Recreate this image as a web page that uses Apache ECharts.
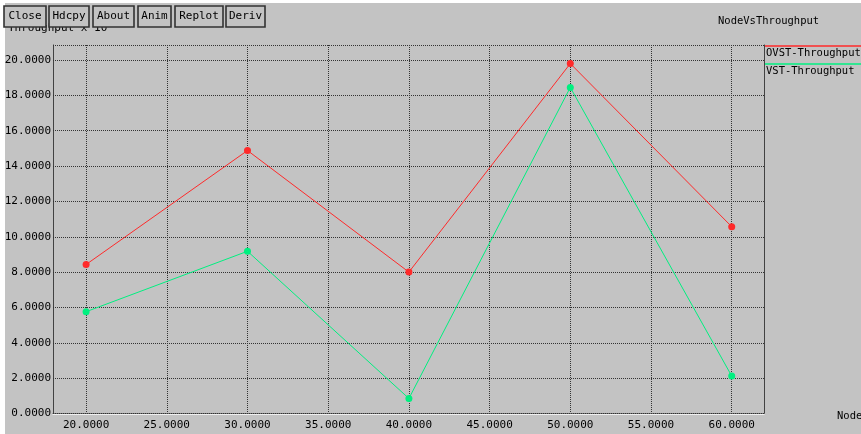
<!DOCTYPE html>
<html>
<head>
<meta charset="utf-8">
<script src="https://cdn.jsdelivr.net/npm/echarts@6/dist/echarts.min.js"></script>
<style>
html,body{margin:0;padding:0;background:#fff;}
#c{width:861px;height:434px;}
</style>
</head>
<body>
<div id="c"></div>
<script>
const nodes = [20, 30, 40, 50, 60];
const ovstThroughput = [8.43, 14.88, 8.0, 19.8, 10.57];
const vstThroughput = [5.76, 9.18, 0.85, 18.45, 2.12];
const xTicks = [20, 25, 30, 35, 40, 45, 50, 55, 60];
const seriesNames = ['OVST-Throughput', 'VST-Throughput'];
const seriesColors = ['#ff2a2a', '#00f080'];
const buttons = ['Close', 'Hdcpy', 'About', 'Anim', 'Replot', 'Deriv'];
const title = 'NodeVsThroughput';
const yTitle = 'Throughput x 10\u00B3';
const xTitle = 'Node';

const FONT = '"DejaVu Sans Mono", "Liberation Mono", monospace';
const BG = '#c3c3c3';
const GRIDC = '#333333';

const chart = echarts.init(document.getElementById('c'));

const buttonPos = [[4, 42], [49, 40], [93, 41], [138, 33], [175, 48], [226, 39]];
const graphics = [
  { type: 'rect', z: -10, silent: true, shape: { x: 5, y: 3, width: 900, height: 450 }, style: { fill: BG } },
  { type: 'text', z: 1, left: 8, top: 23, style: { text: yTitle, font: '11px ' + FONT, fill: '#000' } },
  { type: 'text', z: 1, left: 718, top: 16, style: { text: title, font: '10.5px ' + FONT, fill: '#000' } },
  { type: 'text', z: 1, left: 837, top: 411, style: { text: xTitle, font: '10.5px ' + FONT, fill: '#000' } }
];
buttons.forEach((b, i) => {
  const [x, w] = buttonPos[i];
  graphics.push({ type: 'rect', z: 5, shape: { x: x, y: 6, width: w, height: 21 }, style: { fill: BG, stroke: '#333', lineWidth: 1.6 } });
  graphics.push({ type: 'text', z: 6, x: x + w / 2, y: 16.5, style: { text: b, font: '11px ' + FONT, fill: '#000', align: 'center', verticalAlign: 'middle' } });
});
seriesNames.forEach((n, i) => {
  const y = 46 + i * 18;
  graphics.push({ type: 'line', z: 5, shape: { x1: 765, y1: y, x2: 861, y2: y }, style: { stroke: seriesColors[i], lineWidth: 1.5 } });
  graphics.push({ type: 'text', z: 5, left: 766, top: y + 2, style: { text: n, font: '10.5px ' + FONT, fill: '#000' } });
});

const dotted = { color: GRIDC, width: 1, type: 'dotted' };

chart.setOption({
  backgroundColor: '#fff',
  animation: false,
  graphic: graphics,
  grid: { left: 53, right: 97, top: 45, bottom: 20.5 },
  xAxis: [{
    type: 'value', min: 17.95, max: 62.0,
    offset: 2,
    axisLine: { show: true, lineStyle: { color: '#fff', width: 1.5 } },
    axisTick: { show: false, customValues: xTicks },
    axisLabel: { customValues: xTicks, margin: 4, color: '#000', fontFamily: FONT, fontSize: 11,
      formatter: v => v.toFixed(4) },
    splitLine: { show: true, lineStyle: dotted }
  }, {
    type: 'value', position: 'top', min: 17.95, max: 62.0,
    axisLine: { show: true, lineStyle: dotted },
    axisTick: { show: false }, axisLabel: { show: false }, splitLine: { show: false }
  }],
  yAxis: [{
    type: 'value', min: 0, max: 20.85, interval: 2,
    axisLine: { show: true, lineStyle: dotted },
    axisTick: { show: false },
    axisLabel: { margin: 2, color: '#000', fontFamily: FONT, fontSize: 11,
      formatter: v => v.toFixed(4), showMaxLabel: false },
    splitLine: { show: true, lineStyle: dotted }
  }, {
    type: 'value', position: 'right', min: 0, max: 20.85,
    axisLine: { show: true, lineStyle: dotted },
    axisTick: { show: false }, axisLabel: { show: false }, splitLine: { show: false }
  }],
  series: [
    { name: seriesNames[0], type: 'line', data: nodes.map((x, i) => [x, ovstThroughput[i]]),
      symbol: 'circle', symbolSize: 7, lineStyle: { color: seriesColors[0], width: 1 },
      itemStyle: { color: seriesColors[0] } },
    { name: seriesNames[1], type: 'line', data: nodes.map((x, i) => [x, vstThroughput[i]]),
      symbol: 'circle', symbolSize: 7, lineStyle: { color: seriesColors[1], width: 1 },
      itemStyle: { color: seriesColors[1] } }
  ]
});
</script>
</body>
</html>
